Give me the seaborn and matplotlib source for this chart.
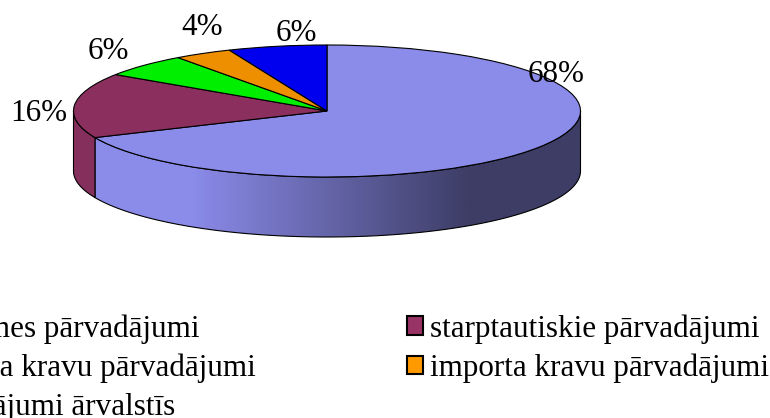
import numpy as np
import matplotlib
matplotlib.use('Agg')
import matplotlib.pyplot as plt
from matplotlib.patches import Patch, Polygon
import seaborn as sns

# ========== DATA ==========
LABELS = ['iekšzemes pārvadājumi', 'starptautiskie pārvadājumi', 'eksporta kravu pārvadājumi',
          'importa kravu pārvadājumi', 'pārvadājumi ārvalstīs']
VALUES = [68.4, 15.9, 5.7, 3.7, 6.3]
TOP_COLORS = ['#8b8bea', '#8b2f5e', '#00ee00', '#ee8f00', '#0000ee']
LEGEND_COLORS = ['#9999ff', '#993366', '#00ff00', '#ff9900', '#0000ff']
# legend fills columns first, the reference reads row by row
LEGEND_ORDER = [0, 2, 4, 1, 3]
# label centres in image pixels
LABEL_PIXELS = [(556, 75), (39, 114), (108, 52), (202, 28), (296, 34)]
# ==========================

W, H = 770, 418
CX, CY = 327, 111
RX, RY = 253.5, 66
DEPTH = 60 / RY

sns.set_theme(style='white')
plt.rcParams['font.family'] = ['Liberation Serif', 'DejaVu Serif']


def px(x, y):
    """Image pixels to data coordinates of the pie."""
    return (x - CX) / RX, (CY - y) / RY


def arc(a0, a1):
    t = np.radians(np.linspace(a0, a1, 200))
    return np.cos(t), np.sin(t)


def wall_polygon(a0, a1):
    x, y = arc(a0, a1)
    return np.column_stack([np.r_[x, x[::-1]], np.r_[y, y[::-1] - DEPTH]])


fig = plt.figure(figsize=(W / 100, H / 100), dpi=100)
ax = fig.add_axes([0, 0, 1, 1])

# side wall: only the front part of the first two slices shows
end_first = 90 - VALUES[0] * 3.6
wall_main = Polygon(wall_polygon(0, end_first), closed=True, facecolor='none', edgecolor='black', lw=0.8, zorder=2)
wall_left = Polygon(wall_polygon(end_first, -180), closed=True, facecolor='#85305c', edgecolor='black', lw=0.8, zorder=2)
ax.add_patch(wall_main)
ax.add_patch(wall_left)

# light up to x=190, dark from x=470
cmap = sns.blend_palette(['#8b8bea', '#3d3d66'], as_cmap=True)
shade = np.clip((np.linspace(90, 581, 256) - 190) / 280, 0, 1)
x0, _ = px(90, 0)
x1, _ = px(581, 0)
im = ax.imshow(shade[None, :], cmap=cmap, aspect='auto', zorder=1, extent=(x0, x1, -1 - DEPTH, 0.5))
im.set_clip_path(wall_main)

ax.pie(VALUES, colors=TOP_COLORS, startangle=90, counterclock=False, radius=1, center=(0, 0),
       wedgeprops=dict(edgecolor='black', linewidth=0.8, zorder=3))

ax.set_aspect('auto')
ax.set_xlim(px(0, 0)[0], px(W, 0)[0])
ax.set_ylim(px(0, H)[1], px(0, 0)[1])
ax.axis('off')

for value, (lx, ly) in zip(VALUES, LABEL_PIXELS):
    tx, ty = px(lx, ly)
    ax.text(tx, ty, f'{value:.0f}%', ha='center', va='center', fontsize=22.4, color='black', zorder=5)

handles = [Patch(facecolor=LEGEND_COLORS[i], edgecolor='black', linewidth=1.5) for i in LEGEND_ORDER]
names = [LABELS[i] for i in LEGEND_ORDER]
leg = fig.legend(handles, names, ncol=2, frameon=False, fontsize=22.4, labelcolor='black', loc='upper left',
                 bbox_to_anchor=(-115.5 / W, 1 - 314 / H), borderaxespad=0, borderpad=0,
                 handlelength=0.52, handleheight=0.52, handletextpad=0.23,
                 labelspacing=0.32, columnspacing=4.87)

fig.savefig('out.png', dpi=100)
